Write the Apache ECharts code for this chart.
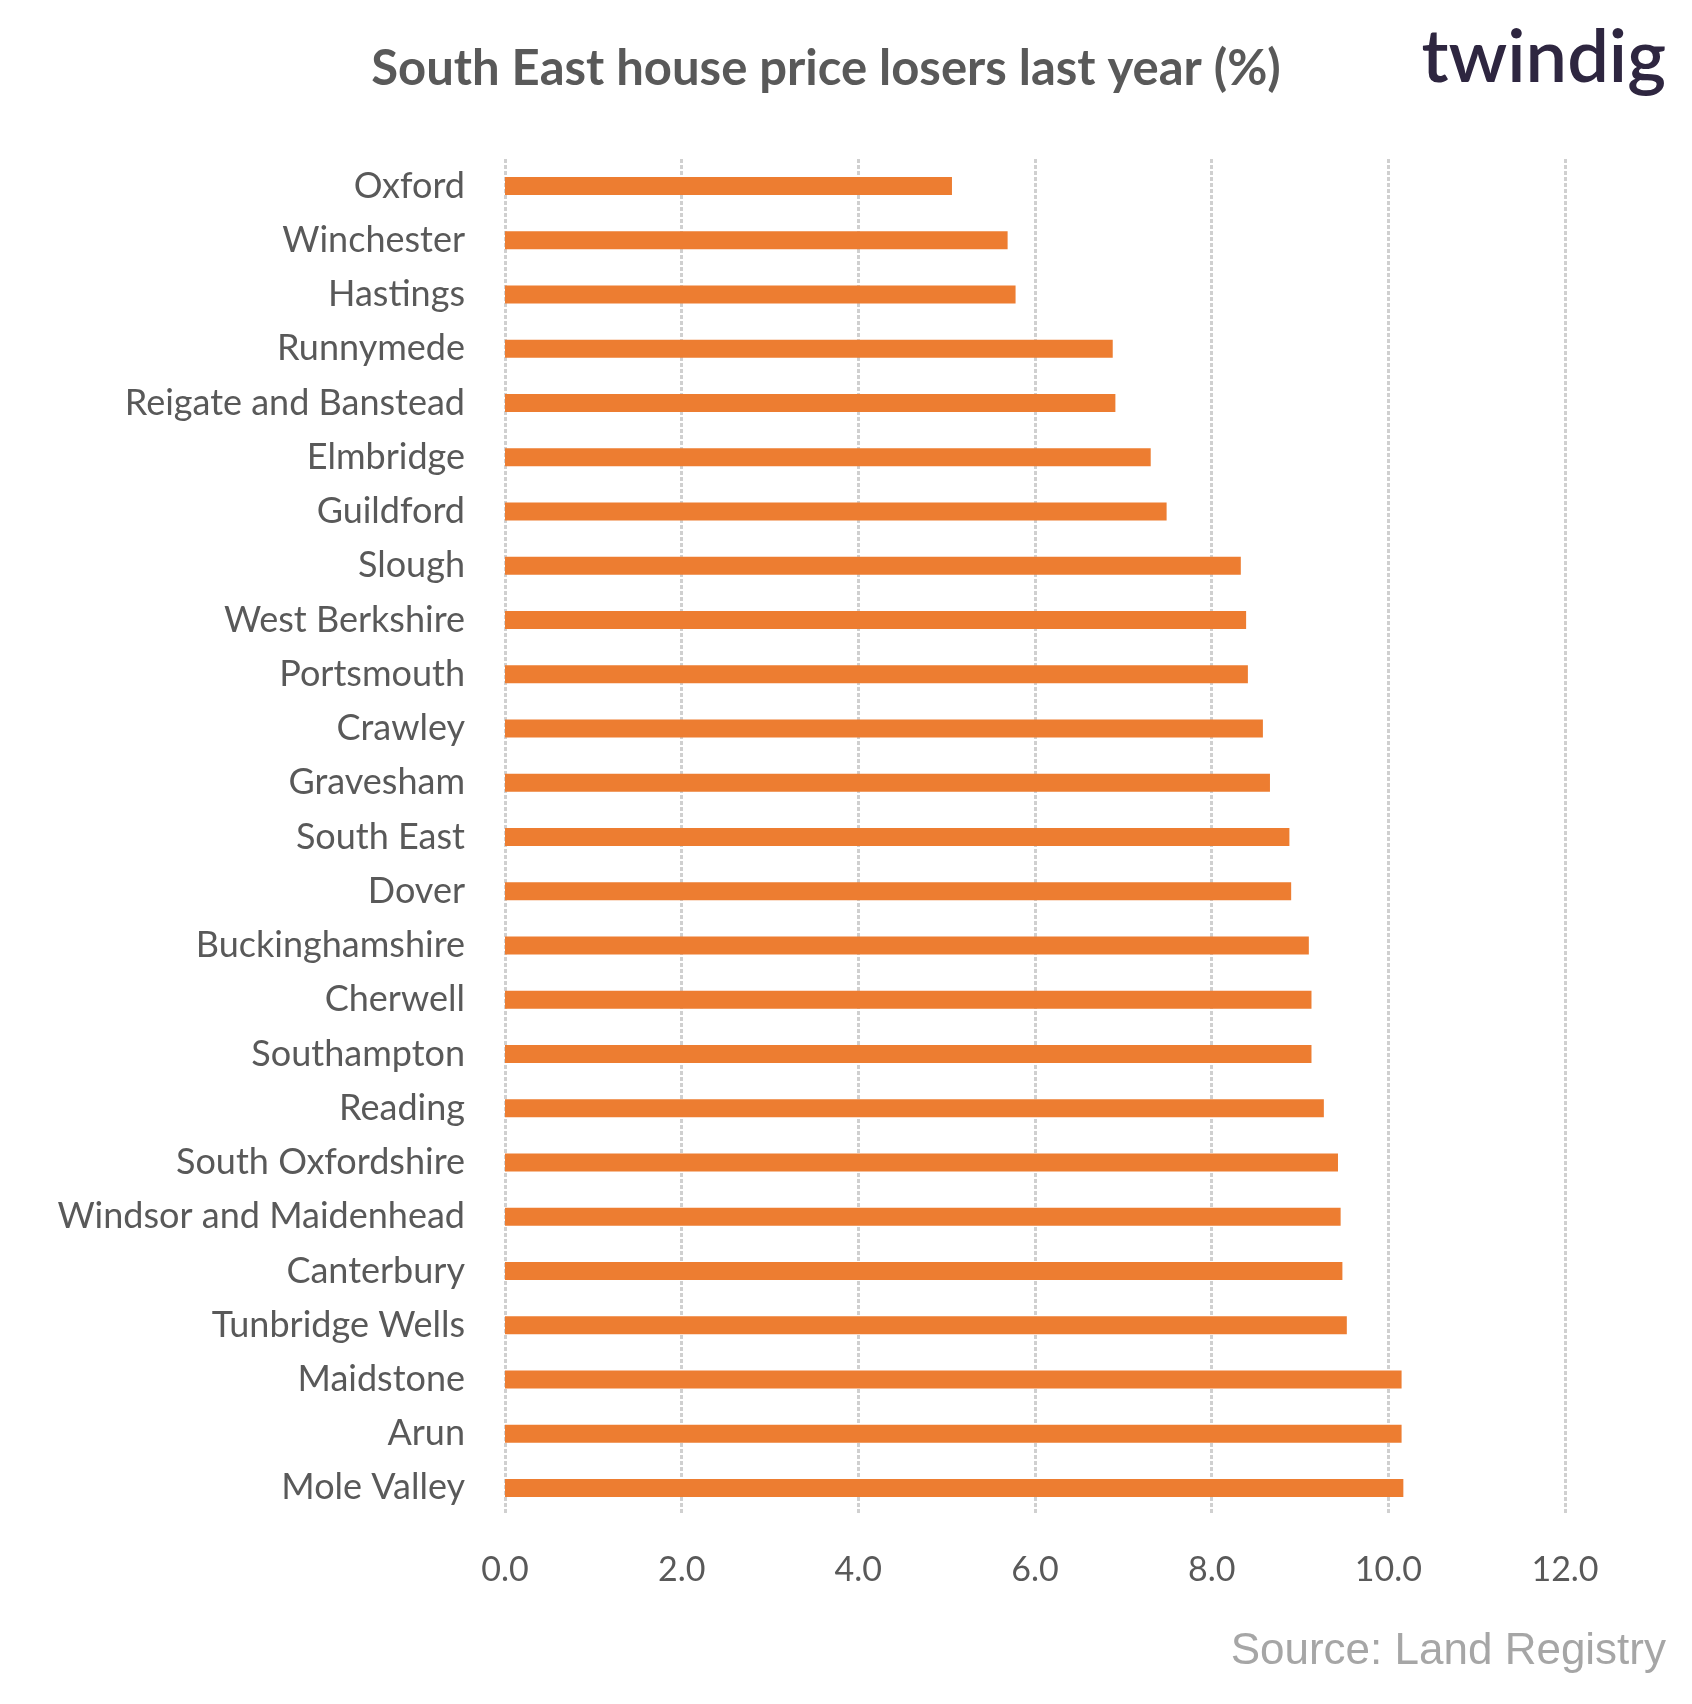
<!DOCTYPE html>
<html><head><meta charset="utf-8">
<script src="https://cdn.jsdelivr.net/npm/echarts@6/dist/echarts.min.js"></script>
<style>html,body{margin:0;background:#fff}#c{width:1692px;height:1704px}</style>
</head><body><div id="c"></div>
<script>
var areas = ["Oxford","Winchester","Hastings","Runnymede","Reigate and Banstead","Elmbridge","Guildford","Slough","West Berkshire","Portsmouth","Crawley","Gravesham","South East","Dover","Buckinghamshire","Cherwell","Southampton","Reading","South Oxfordshire","Windsor and Maidenhead","Canterbury","Tunbridge Wells","Maidstone","Arun","Mole Valley"];
var losses = [5.06,5.69,5.78,6.88,6.91,7.31,7.49,8.33,8.39,8.41,8.58,8.66,8.88,8.90,9.10,9.13,9.13,9.27,9.43,9.46,9.48,9.53,10.15,10.15,10.17];

var chart = echarts.init(document.getElementById("c"));
chart.setOption({
    animation: false,
    backgroundColor: "#fff",
    textStyle: { fontFamily: "Lato" },
    graphic: [
        { type: "text", x: 826, y: 69, style: { text: "South East house price losers last year (%)", font: "bold 49px Lato", fill: "#595959", align: "center", verticalAlign: "middle" } },
        { type: "text", x: 1666, y: 58, style: { text: "twindig", font: "600 74px Lato", fill: "#2e2640", align: "right", verticalAlign: "middle" } },
        { type: "text", x: 1666, y: 1652, style: { text: "Source: Land Registry", font: "44px 'Liberation Sans'", fill: "#a6a6a6", align: "right", verticalAlign: "middle" } }
    ],
    grid: { left: 505, right: 127, top: 159, bottom: 189 },
    xAxis: {
        type: "value", min: 0, max: 12, interval: 2,
        axisLine: { show: false }, axisTick: { show: false },
        splitLine: { lineStyle: { color: "#d0d0d0", width: 3, type: [4, 2] } },
        axisLabel: { color: "#595959", fontSize: 34, margin: 38, formatter: function (v) { return v.toFixed(1); } }
    },
    yAxis: {
        type: "category", data: areas, inverse: true,
        axisLine: { show: false }, axisTick: { show: false },
        axisLabel: { color: "#595959", fontSize: 36, margin: 40 }
    },
    series: [{ type: "bar", data: losses, barWidth: 18, itemStyle: { color: "#ed7d31" } }]
});
</script></body></html>
